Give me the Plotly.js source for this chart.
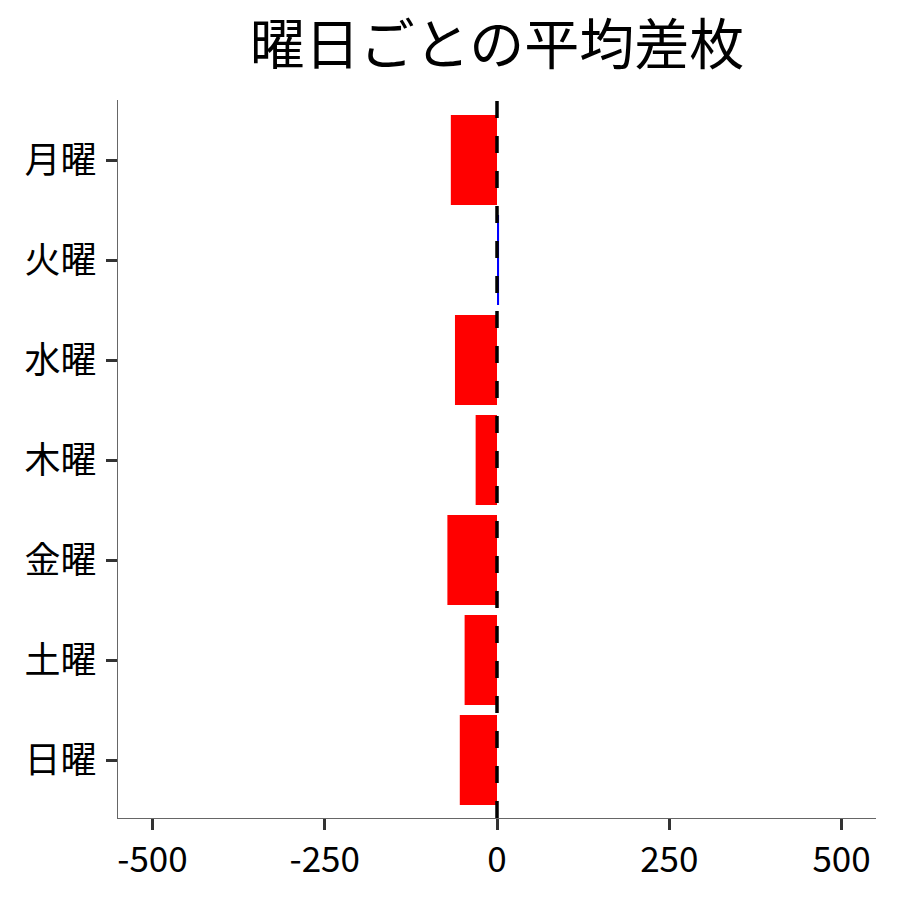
<!DOCTYPE html>
<html>
<head>
<meta charset="utf-8">
<script src="https://cdn.plot.ly/plotly-3.0.1.min.js"></script>
<style>html,body{margin:0;padding:0;background:#fff}</style>
</head>
<body>
<div id="chart" style="width:900px;height:900px"></div>
<script>
const days = ["月曜", "火曜", "水曜", "木曜", "金曜", "土曜", "日曜"];
const avgDiff = [-67, 3, -61, -31, -72, -47, -54];
const xTicks = [-500, -250, 0, 250, 500];
const posColor = "#0000FF";
const negColor = "#FF0000";

const font = "Noto Sans CJK JP, Noto Sans, sans-serif";

const trace = {
  type: "bar",
  orientation: "h",
  y: days,
  x: avgDiff,
  width: 0.9,
  marker: { color: avgDiff.map(v => v >= 0 ? posColor : negColor), line: { width: 0 } },
  hoverinfo: "x+y"
};

const layout = {
  width: 900,
  height: 900,
  margin: { l: 118, r: 24, t: 100, b: 82 },
  paper_bgcolor: "#fff",
  plot_bgcolor: "#fff",
  showlegend: false,
  font: { family: font, color: "#000" },
  title: {
    text: "曜日ごとの平均差枚",
    font: { family: font, size: 55, color: "#000" },
    x: 0.5, xref: "paper", xanchor: "center",
    y: 0.95, yref: "container", yanchor: "middle"
  },
  xaxis: {
    range: [-550, 550],
    tickvals: xTicks,
    ticktext: xTicks.map(String),
    showgrid: false,
    zeroline: false,
    showline: true,
    linecolor: "#666",
    linewidth: 1.3,
    ticks: "outside",
    ticklen: 11,
    tickwidth: 3,
    tickcolor: "#333",
    tickfont: { family: font, size: 35, color: "#000" },
    fixedrange: true
  },
  yaxis: {
    type: "category",
    categoryorder: "array",
    categoryarray: days,
    autorange: false,
    range: [6.58, -0.6],
    showgrid: false,
    zeroline: false,
    showline: true,
    linecolor: "#666",
    linewidth: 1.3,
    ticks: "outside",
    ticklen: 11,
    tickwidth: 3,
    tickcolor: "#333",
    ticklabelstandoff: 2,
    tickfont: { family: font, size: 36, color: "#000" },
    fixedrange: true
  },
  shapes: [{
    type: "line",
    xref: "x", yref: "paper",
    x0: 0, x1: 0, y0: 0, y1: 1,
    line: { color: "#000", width: 3.5, dash: "17px,18px" }
  }]
};

Plotly.newPlot("chart", [trace], layout, { staticPlot: true, displayModeBar: false });
</script>
</body>
</html>
